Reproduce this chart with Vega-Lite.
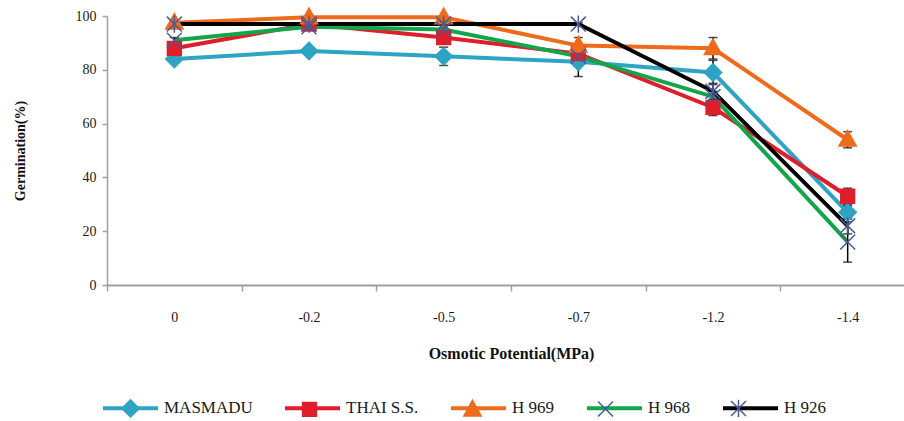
{
  "$schema": "https://vega.github.io/schema/vega-lite/v6.json",
  "width": 797,
  "height": 269,
  "autosize": {"type": "none"},
  "padding": {"left": 107, "top": 16, "right": 0, "bottom": 136},
  "background": "white",
  "config": {"view": {"stroke": null}, "font": "Liberation Serif"},
  "data": {
    "values": [
      {"name": "MASMADU", "marker": "MASMADU", "potential": "0", "germ": 84, "err": 1},
      {"name": "MASMADU", "marker": "MASMADU", "potential": "-0.2", "germ": 87, "err": 1.5},
      {"name": "MASMADU", "marker": "MASMADU", "potential": "-0.5", "germ": 85, "err": 3.4},
      {"name": "MASMADU", "marker": "MASMADU", "potential": "-0.7", "germ": 83, "err": 5.5},
      {"name": "MASMADU", "marker": "MASMADU", "potential": "-1.2", "germ": 79, "err": 4.5},
      {"name": "MASMADU", "marker": "MASMADU", "potential": "-1.4", "germ": 27, "err": 2.5},
      {"name": "THAI S.S.", "marker": "THAI S.S.", "potential": "0", "germ": 88, "err": 1.5},
      {"name": "THAI S.S.", "marker": "THAI S.S.", "potential": "-0.2", "germ": 97, "err": 1},
      {"name": "THAI S.S.", "marker": "THAI S.S.", "potential": "-0.5", "germ": 92, "err": 2.5},
      {"name": "THAI S.S.", "marker": "THAI S.S.", "potential": "-0.7", "germ": 86, "err": 2},
      {"name": "THAI S.S.", "marker": "THAI S.S.", "potential": "-1.2", "germ": 66, "err": 3},
      {"name": "THAI S.S.", "marker": "THAI S.S.", "potential": "-1.4", "germ": 33, "err": 3},
      {"name": "H 969", "marker": "H 969", "potential": "0", "germ": 97.5, "err": 1},
      {"name": "H 969", "marker": "H 969", "potential": "-0.2", "germ": 99.5, "err": 0.5},
      {"name": "H 969", "marker": "H 969", "potential": "-0.5", "germ": 99.5, "err": 0.5},
      {"name": "H 969", "marker": "H 969", "potential": "-0.7", "germ": 89, "err": 3},
      {"name": "H 969", "marker": "H 969", "potential": "-1.2", "germ": 88, "err": 4},
      {"name": "H 969", "marker": "H 969", "potential": "-1.4", "germ": 54, "err": 3},
      {"name": "H 968", "marker": "H 968", "potential": "0", "germ": 91, "err": 1},
      {"name": "H 968", "marker": "H 968", "potential": "-0.2", "germ": 96, "err": 1},
      {"name": "H 968", "marker": "H 968", "potential": "-0.5", "germ": 95, "err": 1.5},
      {"name": "H 968", "marker": "H 968", "potential": "-0.7", "germ": 85, "err": 2},
      {"name": "H 968", "marker": "H 968", "potential": "-1.2", "germ": 70, "err": 2},
      {"name": "H 968", "marker": "H 968", "potential": "-1.4", "germ": 16, "err": 7.5},
      {"name": "H 926", "marker": "H 926", "potential": "0", "germ": 97, "err": 0.5},
      {"name": "H 926", "marker": "H 926", "potential": "-0.2", "germ": 97, "err": 0.5},
      {"name": "H 926", "marker": "H 926", "potential": "-0.5", "germ": 97, "err": 0.5},
      {"name": "H 926", "marker": "H 926", "potential": "-0.7", "germ": 97, "err": 0.5},
      {"name": "H 926", "marker": "H 926", "potential": "-1.2", "germ": 72, "err": 3},
      {"name": "H 926", "marker": "H 926", "potential": "-1.4", "germ": 22, "err": 3}
    ]
  },
  "encoding": {
    "x": {
      "field": "potential",
      "type": "nominal",
      "sort": ["0", "-0.2", "-0.5", "-0.7", "-1.2", "-1.4"],
      "scale": {"range": [0, 808], "paddingInner": 0, "paddingOuter": 0},
      "axis": {
        "title": "Osmotic Potential(MPa)",
        "tickBand": "extent",
        "tickSize": 6,
        "labelPadding": 19,
        "labelAngle": 0,
        "labelFont": "Liberation Serif",
        "labelFontSize": 14,
        "labelColor": "#1a1a1a",
        "titleFont": "Liberation Serif",
        "titleFontSize": 16,
        "titleFontWeight": "bold",
        "titleColor": "#111111",
        "titleY": 68,
        "titleBaseline": "middle",
        "domainColor": "#a0a0a0",
        "domainWidth": 2,
        "tickColor": "#a0a0a0",
        "tickWidth": 1.5,
        "grid": false
      }
    },
    "y": {
      "field": "germ",
      "type": "quantitative",
      "scale": {"domain": [0, 100], "nice": false},
      "axis": {
        "title": "Germination(%)",
        "values": [0, 20, 40, 60, 80, 100],
        "tickSize": 5,
        "labelPadding": 6,
        "labelFont": "Liberation Serif",
        "labelFontSize": 14,
        "labelColor": "#1a1a1a",
        "titleFont": "Liberation Serif",
        "titleFontSize": 14,
        "titleFontWeight": "bold",
        "titleColor": "#111111",
        "titleX": -87,
        "titleY": 134.5,
        "titleBaseline": "middle",
        "domainColor": "#a0a0a0",
        "domainWidth": 1.5,
        "tickColor": "#a0a0a0",
        "tickWidth": 1.5,
        "grid": false
      }
    }
  },
  "layer": [
    {
      "mark": {"type": "line", "strokeWidth": 4},
      "encoding": {
        "color": {
          "field": "name",
          "type": "nominal",
          "scale": {
            "domain": ["MASMADU", "THAI S.S.", "H 969", "H 968", "H 926"],
            "range": ["#2fa3c4", "#e01e2b", "#ee6b1c", "#12a64b", "#000000"]
          },
          "legend": {
            "orient": "none",
            "legendX": -6,
            "legendY": 362.5,
            "direction": "horizontal",
            "title": null,
            "symbolType": "M-1,0H1",
            "symbolSize": 3025,
            "symbolStrokeWidth": 4,
            "labelFont": "Liberation Serif",
            "labelFontSize": 17,
            "labelColor": "#1a1a1a",
            "labelOffset": 4,
            "columnPadding": 24,
            "padding": 0,
            "zindex": 1
          }
        }
      }
    },
    {
      "transform": [{"filter": "datum.err > 0"}],
      "mark": {
        "type": "errorbar",
        "ticks": {"size": 9, "thickness": 1.5, "color": "black"},
        "rule": {"strokeWidth": 1.5, "color": "black"}
      },
      "encoding": {
        "yError": {"field": "err"}
      }
    },
    {
      "mark": {"type": "point", "filled": true, "size": 3306, "opacity": 1, "strokeWidth": 1.5},
      "encoding": {
        "shape": {
          "field": "marker",
          "type": "nominal",
          "sort": ["MASMADU", "THAI S.S.", "H 969", "H 968", "H 926"],
          "scale": {
            "range": [
              "M-1,0M1,0M0,-0.3L0.3,0L0,0.3L-0.3,0Z",
              "M-1,0M1,0M-0.24,-0.24H0.24V0.24H-0.24Z",
              "M-1,0M1,0M0,-0.32L0.3,0.22H-0.3Z",
              "M-1,0M1,0M-0.26,-0.26L0.26,0.26M-0.26,0.26L0.26,-0.26",
              "M-1,0M1,0M-0.26,-0.26L0.26,0.26M-0.26,0.26L0.26,-0.26M0,-0.3V0.3"
            ]
          },
          "legend": {
            "orient": "none",
            "legendX": -6,
            "legendY": 362.5,
            "direction": "horizontal",
            "title": null,
            "symbolSize": 3306,
            "symbolStrokeWidth": 1.5,
            "symbolOpacity": 1,
            "symbolFillColor": {"expr": "datum.value === 'MASMADU' ? '#2fa3c4' : datum.value === 'THAI S.S.' ? '#e01e2b' : datum.value === 'H 969' ? '#ee6b1c' : '#4a5a94'"},
            "symbolStrokeColor": {"expr": "datum.value === 'MASMADU' ? '#2fa3c4' : datum.value === 'THAI S.S.' ? '#e01e2b' : datum.value === 'H 969' ? '#ee6b1c' : '#4a5a94'"},
            "labelFont": "Liberation Serif",
            "labelFontSize": 17,
            "labelOpacity": 0,
            "labelOffset": 4,
            "columnPadding": 24,
            "padding": 0,
            "zindex": 2
          }
        },
        "fill": {
          "field": "marker",
          "type": "nominal",
          "sort": ["MASMADU", "THAI S.S.", "H 969", "H 968", "H 926"],
          "scale": {"range": ["#2fa3c4", "#e01e2b", "#ee6b1c", "#4a5a94", "#4a5a94"]},
          "legend": null
        },
        "stroke": {
          "field": "marker",
          "type": "nominal",
          "sort": ["MASMADU", "THAI S.S.", "H 969", "H 968", "H 926"],
          "scale": {"range": ["#2fa3c4", "#e01e2b", "#ee6b1c", "#4a5a94", "#4a5a94"]},
          "legend": null
        }
      }
    }
  ]
}
